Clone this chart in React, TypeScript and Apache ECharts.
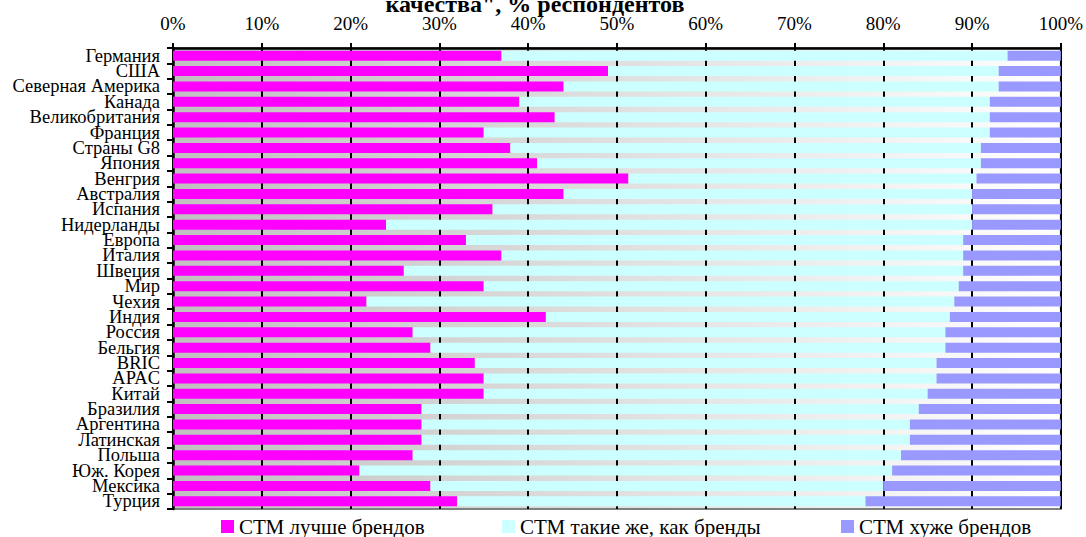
import React, { useEffect, useRef } from "react";
import * as echarts from "echarts";

const categories = [
  "Германия", "США", "Северная Америка", "Канада", "Великобритания", "Франция",
  "Страны G8", "Япония", "Венгрия", "Австралия", "Испания", "Нидерланды",
  "Европа", "Италия", "Швеция", "Мир", "Чехия", "Индия", "Россия", "Бельгия",
  "BRIC", "APAC", "Китай", "Бразилия", "Аргентина", "Латинская", "Польша",
  "Юж. Корея", "Мексика", "Турция",
];

const better = [
  37, 49, 44, 39, 43, 35, 38, 41, 51.3, 44, 36, 24, 33, 37, 26, 35, 21.8, 42, 27, 29,
  34, 35, 35, 28, 28, 28, 27, 21, 29, 32,
];

const same = [
  57, 44, 49, 53, 49, 57, 53, 50, 39.2, 46, 54, 66, 56, 52, 63, 53.5, 66.2, 45.5, 60, 58,
  52, 51, 50, 56, 55, 55, 55, 60, 51, 46,
];

const worse = [
  6, 7, 7, 8, 8, 8, 9, 9, 9.5, 10, 10, 10, 11, 11, 11, 11.5, 12, 12.5, 13, 13,
  14, 14, 15, 16, 17, 17, 18, 19, 20, 22,
];

const seriesNames = ["СТМ лучше брендов", "СТМ такие же, как бренды", "СТМ хуже брендов"];
const titleText = "качества\", % респондентов";

const FONT = "'Liberation Serif', 'Times New Roman', serif";

export default function App() {
  const ref = useRef<HTMLDivElement>(null);

  useEffect(() => {
    if (!ref.current) return;
    const chart = echarts.init(ref.current, undefined, { renderer: "svg" });
    const colors = ["#ff00ff", "#ccffff", "#9999ff"];
    const data = [better, same, worse];
    const legendLefts = [221, 502, 841];

    chart.setOption({
      animation: false,
      textStyle: { fontFamily: FONT },
      graphic: [
        {
          type: "text",
          x: 535,
          y: -8,
          style: {
            text: titleText,
            fontFamily: FONT,
            fontSize: 24,
            fontWeight: "bold",
            textAlign: "center",
            textVerticalAlign: "top",
            fill: "#000",
          },
        },
      ],
      legend: seriesNames.map((n, i) => ({
        data: [n],
        left: legendLefts[i],
        top: 516,
        padding: 0,
        itemWidth: 13,
        itemHeight: 13,
        icon: "rect",
        selectedMode: false,
        textStyle: { fontSize: 21, color: "#000", fontFamily: FONT },
      })),
      grid: {
        left: 173,
        right: 21,
        top: 48,
        bottom: 28,
        show: true,
        borderColor: "#808080",
        borderWidth: 2,
        backgroundColor: {
          type: "linear",
          x: 0,
          y: 0,
          x2: 1,
          y2: 0,
          colorStops: [
            { offset: 0, color: "#c0c0c0" },
            { offset: 1, color: "#ffffff" },
          ],
        },
      },
      xAxis: {
        type: "value",
        position: "top",
        min: 0,
        max: 100,
        interval: 10,
        axisLine: { show: true, lineStyle: { color: "#000", width: 2.5 } },
        axisTick: { show: true, length: 5, lineStyle: { color: "#000", width: 2 } },
        axisLabel: {
          formatter: "{value}%",
          margin: 15,
          fontSize: 19,
          color: "#000",
          fontFamily: FONT,
        },
        splitLine: { show: true, lineStyle: { color: "#000", width: 2 } },
      },
      yAxis: {
        type: "category",
        inverse: true,
        data: categories,
        axisLine: { show: true, lineStyle: { color: "#000", width: 2.5 } },
        axisTick: { show: true, alignWithLabel: false, length: 6, lineStyle: { color: "#000", width: 2 } },
        axisLabel: {
          margin: 13,
          fontSize: 18.5,
          lineHeight: 15,
          color: "#000",
          fontFamily: FONT,
          interval: 0,
        },
        splitLine: { show: false },
      },
      series: seriesNames.map((n, i) => ({
        name: n,
        type: "bar",
        stack: "total",
        barCategoryGap: "35%",
        itemStyle: { color: colors[i] },
        data: data[i],
      })),
    });

    return () => {
      chart.dispose();
    };
  }, []);

  return (
    <div
      ref={ref}
      style={{ position: "absolute", left: 0, top: 0, width: 1086, height: 537 }}
    />
  );
}
